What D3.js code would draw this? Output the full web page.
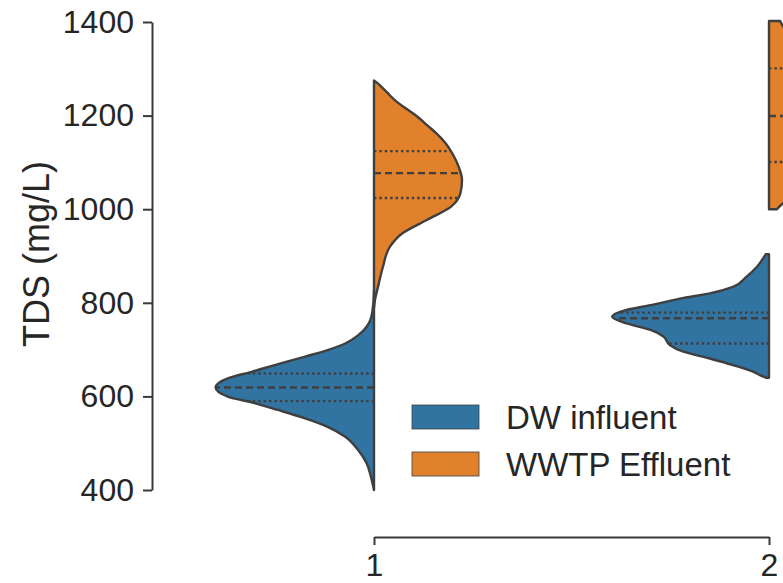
<!DOCTYPE html>
<html>
<head>
<meta charset="utf-8">
<script src="https://cdn.jsdelivr.net/npm/d3@7"></script>
<style>
  body { margin: 0; background: #fff; }
  text { font-family: "Liberation Sans", Arial, sans-serif; fill: #262626; }
</style>
</head>
<body>
<div id="chart"></div>
<script>
// categories and hue groups
var categories = ["1", "2"];
var groups = ["DW influent", "WWTP Effluent"];
var colors = ["#3274a1", "#e1812c"];
var yTicks = [400, 600, 800, 1000, 1200, 1400];

// density profiles: [TDS value, relative density]
var dw1 = [[400,0.00],[428,0.019],[457,0.046],[485,0.098],[514,0.18],[535,0.29],[553,0.43],[571,0.60],[587,0.76],[599,0.91],[619,0.99],[639,0.91],[653,0.76],[669,0.60],[685,0.43],[699,0.29],[713,0.18],[731,0.098],[749,0.046],[767,0.019],[800,0.004],[827,0]];
var ww1 = [[790,0],[806,0.006],[834,0.025],[877,0.056],[920,0.10],[949,0.18],[977,0.33],[1005,0.48],[1034,0.54],[1062,0.55],[1090,0.53],[1119,0.49],[1140,0.45],[1162,0.39],[1180,0.33],[1198,0.27],[1215,0.20],[1233,0.13],[1250,0.08],[1262,0.045],[1270,0.02],[1275,0]];
var dw2 = [[640,0.02],[646,0.06],[653,0.10],[667,0.225],[681,0.37],[696,0.54],[710,0.62],[728,0.66],[742,0.74],[756,0.89],[770,0.98],[785,0.89],[795,0.74],[810,0.54],[820,0.37],[834,0.225],[856,0.14],[877,0.075],[904,0.02]];
var ww2 = [[1000,0.05],[1013,0.09],[1040,0.28],[1080,0.45],[1150,0.52],[1200,0.55],[1260,0.52],[1320,0.45],[1360,0.2],[1385,0.10],[1402,0.07]];

// quartiles [q1, median, q3]
var dw1Q = [590, 619, 649];
var ww1Q = [1024, 1077, 1124];
var dw2Q = [713, 767, 779];
var ww2Q = [1101, 1199, 1301];

var svgWidth = 783;
var svgHeight = 583;

var svg = d3.select("#chart")
  .append("svg")
  .attr("width", svgWidth)
  .attr("height", svgHeight);

var x = d3.scalePoint().domain(categories).range([374, 769]);
var y = d3.scaleLinear().domain([400, 1400]).range([490, 22]);
var w = d3.scaleLinear().domain([0, 1]).range([0, 160]);

var violins = [
  { cat: "1", side: -1, color: colors[0], prof: dw1, q: dw1Q },
  { cat: "1", side: 1, color: colors[1], prof: ww1, q: ww1Q },
  { cat: "2", side: -1, color: colors[0], prof: dw2, q: dw2Q },
  { cat: "2", side: 1, color: colors[1], prof: ww2, q: ww2Q }
];

function widthAt(prof, v) {
  for (var i = 1; i < prof.length; i++) {
    if (v <= prof[i][0]) {
      var t = (v - prof[i-1][0]) / (prof[i][0] - prof[i-1][0]);
      return prof[i-1][1] + t * (prof[i][1] - prof[i-1][1]);
    }
  }
  return prof[prof.length - 1][1];
}

violins.forEach(function(vd) {
  var cx = x(vd.cat);
  var area = d3.area()
    .curve(d3.curveMonotoneY)
    .y(d => y(d[0]))
    .x0(cx)
    .x1(d => cx + vd.side * w(d[1]));

  svg.append("path")
    .datum(vd.prof)
    .attr("d", area)
    .attr("fill", vd.color)
    .attr("stroke", "#3f3f3f")
    .attr("stroke-width", 2.4)
    .attr("stroke-linejoin", "round");

  vd.q.forEach(function(qv, i) {
    svg.append("line")
      .attr("x1", cx)
      .attr("x2", cx + vd.side * w(widthAt(vd.prof, qv)))
      .attr("y1", y(qv))
      .attr("y2", y(qv))
      .attr("stroke", "#3f3f3f")
      .attr("stroke-width", 2.4)
      .attr("stroke-dasharray", i == 1 ? "7,4" : "2.4,3");
  });
});

// axes
var leftAxis = d3.axisLeft(y).tickValues(yTicks).tickFormat(d3.format("d"))
  .tickSize(9).tickSizeOuter(0).tickPadding(9);
var bottomAxis = d3.axisBottom(x).tickSize(8).tickSizeOuter(0).tickPadding(8);

var gy = svg.append("g")
  .attr("transform", "translate(152,0)")
  .call(leftAxis);

var gx = svg.append("g")
  .attr("transform", "translate(0,537)")
  .call(bottomAxis);

[gy, gx].forEach(function(g) {
  g.select(".domain").attr("stroke", "#3a3a3a").attr("stroke-width", 2);
  g.selectAll(".tick line").attr("stroke", "#3a3a3a").attr("stroke-width", 2);
  g.selectAll(".tick text").attr("font-size", "32px").attr("fill", "#262626")
    .style("font-family", "'Liberation Sans', Arial, sans-serif");
});

svg.append("text")
  .attr("transform", "rotate(-90)")
  .attr("x", -254)
  .attr("y", 49)
  .attr("text-anchor", "middle")
  .attr("font-size", "36px")
  .text("TDS (mg/L)");

// legend
var legend = svg.append("g").attr("transform", "translate(412,405)");
groups.forEach(function(gname, i) {
  legend.append("rect")
    .attr("x", 0)
    .attr("y", i * 47)
    .attr("width", 67)
    .attr("height", 24)
    .attr("fill", colors[i])
    .attr("stroke", "#3f3f3f")
    .attr("stroke-width", 0.8);
  legend.append("text")
    .attr("x", 94)
    .attr("y", i * 47 + 12)
    .attr("dy", "0.35em")
    .attr("font-size", "33px")
    .text(gname);
});
</script>
</body>
</html>
